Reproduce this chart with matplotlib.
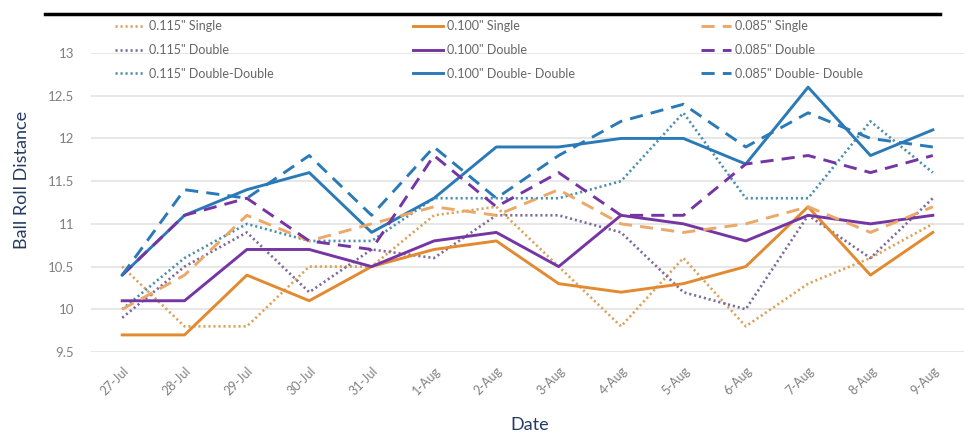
import matplotlib.pyplot as plt
from matplotlib.lines import Line2D

plt.rcParams['font.family'] = ['Lato', 'DejaVu Sans']

# Daily readings, one list per ball size / setup
dates = ['27-Jul', '28-Jul', '29-Jul', '30-Jul', '31-Jul', '1-Aug', '2-Aug',
         '3-Aug', '4-Aug', '5-Aug', '6-Aug', '7-Aug', '8-Aug', '9-Aug']

s115_single = [10.5, 9.8, 9.8, 10.5, 10.5, 11.1, 11.2, 10.5, 9.8, 10.6, 9.8, 10.3, 10.6, 11.0]
s115_double = [9.9, 10.5, 10.9, 10.2, 10.7, 10.6, 11.1, 11.1, 10.9, 10.2, 10.0, 11.1, 10.6, 11.3]
s115_dd = [10.0, 10.6, 11.0, 10.8, 10.8, 11.3, 11.3, 11.3, 11.5, 12.3, 11.3, 11.3, 12.2, 11.6]

s100_single = [9.7, 9.7, 10.4, 10.1, 10.5, 10.7, 10.8, 10.3, 10.2, 10.3, 10.5, 11.2, 10.4, 10.9]
s100_double = [10.1, 10.1, 10.7, 10.7, 10.5, 10.8, 10.9, 10.5, 11.1, 11.0, 10.8, 11.1, 11.0, 11.1]
s100_dd = [10.4, 11.1, 11.4, 11.6, 10.9, 11.3, 11.9, 11.9, 12.0, 12.0, 11.7, 12.6, 11.8, 12.1]

s085_single = [10.0, 10.4, 11.1, 10.8, 11.0, 11.2, 11.1, 11.4, 11.0, 10.9, 11.0, 11.2, 10.9, 11.2]
s085_double = [10.4, 11.1, 11.3, 10.8, 10.7, 11.8, 11.2, 11.6, 11.1, 11.1, 11.7, 11.8, 11.6, 11.8]
s085_dd = [10.4, 11.4, 11.3, 11.8, 11.1, 11.9, 11.3, 11.8, 12.2, 12.4, 11.9, 12.3, 12.0, 11.9]

ORANGE = '#E3892F'
PURPLE = '#7535A3'
BLUE = '#2A7AB8'
TAN = '#D9A35C'
GREY_PURPLE = '#7F6A9C'
GREY_BLUE = '#4E8FAE'

dotted = (0, (0.8, 1.1))
dashed = (0, (4.5, 2.8))

series = [
    # (label, values, color, linestyle, width)
    ('0.115" Single', s115_single, TAN, dotted, 1.9),
    ('0.115" Double', s115_double, GREY_PURPLE, dotted, 1.9),
    ('0.115" Double-Double', s115_dd, GREY_BLUE, dotted, 1.9),
    ('0.100" Single', s100_single, ORANGE, '-', 2.1),
    ('0.100" Double', s100_double, PURPLE, '-', 2.1),
    ('0.100" Double- Double', s100_dd, BLUE, '-', 2.1),
    ('0.085" Single', s085_single, '#EBA868', dashed, 2.1),
    ('0.085" Double', s085_double, PURPLE, dashed, 2.1),
    ('0.085" Double- Double', s085_dd, BLUE, dashed, 2.1),
]

fig = plt.figure(figsize=(9.67, 4.38), dpi=100)
ax = fig.add_axes([91 / 967, 1 - 352 / 438, (964 - 91) / 967, (352 - 53) / 438])

x = list(range(len(dates)))
handles = []
for label, vals, col, ls, lw in series:
    h, = ax.plot(x, vals, color=col, linestyle=ls, linewidth=lw, label=label)
    handles.append(h)

ax.set_xlim(-0.5, len(dates) - 0.5)
ax.set_ylim(9.5, 13)
ax.set_yticks([9.5, 10, 10.5, 11, 11.5, 12, 12.5, 13])
ax.set_yticklabels(['9.5', '10', '10.5', '11', '11.5', '12', '12.5', '13'])
ax.set_xticks(x)
ax.set_xticklabels(dates, rotation=45, ha='right', rotation_mode='anchor')
ax.tick_params(axis='y', length=0, pad=12, labelsize=9.5, labelcolor='#808080')
ax.tick_params(axis='x', length=0, pad=9, labelsize=9, labelcolor='#808080')
ax.grid(axis='y', color='#E3E3E3', linewidth=1.2)
ax.set_axisbelow(True)
for sp in ax.spines.values():
    sp.set_visible(False)
ax.set_clip_on(False)

fig.text(530 / 967, 1 - 425 / 438, 'Date', ha='center', va='center',
         fontsize=13, color='#243B63')
fig.text(22 / 967, 1 - 180 / 438, 'Ball Roll Distance', ha='center', va='center',
         rotation=90, fontsize=13, color='#243B63')

# heavy rule across the top
fig.add_artist(Line2D([45 / 967, 940 / 967], [1 - 14 / 438, 1 - 14 / 438],
                      color='black', linewidth=2.5, transform=fig.transFigure))

# legend, one block per ball size
col_x = [110, 408, 696]
for i, cx in enumerate(col_x):
    leg = fig.legend(handles=handles[i * 3:(i + 1) * 3], loc='upper left',
                     bbox_to_anchor=(cx / 967, 1 - 15 / 438), frameon=False,
                     fontsize=9, labelcolor='#666666', handlelength=2.4,
                     handletextpad=0.3, labelspacing=0.95, borderaxespad=0)

fig.savefig('out.png', dpi=100)
